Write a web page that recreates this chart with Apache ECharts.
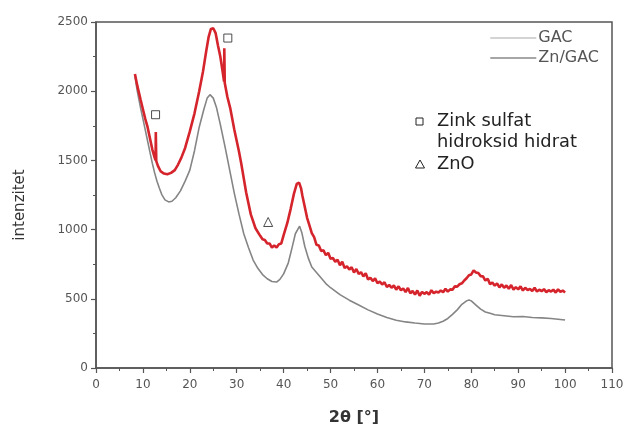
<!DOCTYPE html>
<html><head><meta charset="utf-8">
<script src="https://cdn.jsdelivr.net/npm/echarts@6/dist/echarts.min.js"></script>
<style>html,body{margin:0;padding:0;background:#fff}#c{width:625px;height:427px}</style>
</head><body><div id="c"></div>
<script>
const znGacTheta = [8.3,8.8,9.5,10,10.5,11,11.5,12,12.5,12.7,12.75,12.85,13.2,13.8,14.5,15.2,16,16.8,17.5,18.2,19,20,21,22,22.8,23.5,24,24.5,25,25.5,26,26.5,27,27.3,27.35,27.45,28,28.6,29.5,30.5,31,32,33,34,35,35.5,36,36.5,37,37.5,38,38.5,39,39.5,40,40.8,41.5,42.2,42.8,43.3,43.7,
44,44.5,45,45.5,46,46.5,47,47.5,48,48.5,49,49.5,50,50.5,51,51.5,52,52.5,53,53.5,54,54.5,55,55.5,56,56.5,57,57.5,58,58.5,59,59.5,60,60.5,61,61.5,62,62.5,63,63.5,64,64.5,65,65.5,66,66.5,67,67.5,68,68.5,69,69.5,70,70.5,71,71.5,72,72.5,73,73.5,74,74.5,75,75.5,76,76.5,77,77.5,78,78.5,79,79.5,80,80.5,81,81.5,82,82.5,83,83.5,84,84.5,85,85.5,86,86.5,87,87.5,88,88.5,89,89.5,90,90.5,91,91.5,92,92.5,93,93.5,94,94.5,95,95.5,96,96.5,97,97.5,98,98.5,99,99.5,100];
const znGacIntensity = [2125,2040,1940,1870,1800,1740,1660,1580,1520,1500,1705,1495,1460,1420,1405,1400,1410,1430,1470,1520,1590,1710,1840,2000,2140,2290,2390,2450,2455,2420,2330,2250,2140,2070,2310,2060,1960,1880,1720,1560,1470,1270,1110,1010,955,930,925,900,900,870,885,870,895,900,960,1050,1150,1260,1330,1340,1300,
1245,1165,1085,1030,975,945,890,885,845,850,815,832,790,795,768,782,742,768,722,735,712,728,690,715,680,692,662,685,640,652,628,648,612,625,603,620,585,600,580,596,566,590,562,575,548,578,540,556,530,560,522,550,536,548,530,562,540,552,545,560,548,572,552,568,566,590,588,605,612,632,648,670,676,705,690,686,664,662,632,645,606,618,595,612,583,604,580,596,572,600,566,584,568,590,560,580,562,572,556,580,553,566,555,570,548,562,552,566,545,568,550,560,546,558,550];
const gacTheta = [8.3,8.8,9.5,10,10.5,11,11.5,12,12.5,13,13.5,14,14.7,15.5,16.2,17,18,19,20,21,22,23,23.7,24.3,25,25.7,26.5,27.5,28.5,29.5,30.5,31.5,32.5,33.5,34.5,35.5,36.5,37.5,38.5,39.2,40,41,41.8,42.5,43.4,43.9,44.5,45.3,46,47,48,49,50,52,54,56,58,60,62,64,66,68,70,72,73,74,75,76,77,78,79,79.5,80,81,82,83,84,85,87,89,91,93,95,97,100];
const gacIntensity = [2110,2000,1880,1800,1720,1640,1560,1480,1410,1350,1300,1255,1215,1200,1205,1230,1280,1350,1430,1570,1740,1870,1950,1975,1950,1880,1760,1600,1430,1260,1110,970,870,780,720,675,645,625,621,640,680,760,870,970,1025,975,880,790,730,690,650,610,580,530,490,455,420,390,365,345,333,325,318,318,325,338,358,388,420,460,485,492,485,455,425,405,395,385,378,370,372,365,362,358,347];
const sulfatePeaks = [[12.7,1830],[28.1,2384]];
const znoPeaks = [[36.7,1055]];
const xTicks = {min:0,max:110,interval:10};
const yTicks = {min:0,max:2500,interval:500};

const zip = (a,b)=>a.map((v,i)=>[v,b[i]]);
const chart = echarts.init(document.getElementById('c'));
const axisColor = '#555';
const font = 'DejaVu Sans';
const annFont = '17px "DejaVu Sans"';
chart.setOption({
  animation:false,
  backgroundColor:'#fff',
  grid:{left:96,right:13,top:22,bottom:59,outerBoundsMode:'none',containLabel:false,show:true,borderColor:axisColor,borderWidth:1.5,backgroundColor:'transparent'},
  legend:{
    orient:'vertical',right:21,top:25,itemGap:4,itemWidth:46,itemHeight:2,align:'left',
    textStyle:{color:'#555',fontSize:16,fontFamily:font,padding:[0,0,0,-3]},
    data:[
      {name:'GAC',icon:'rect',itemStyle:{color:'#d4d4d4'}},
      {name:'Zn/GAC',icon:'rect',itemStyle:{color:'#a6a6a6'}}
    ]
  },
  xAxis:{type:'value',min:xTicks.min,max:xTicks.max,interval:xTicks.interval,
    name:'2θ [°]',nameLocation:'middle',nameGap:42,
    nameTextStyle:{fontWeight:'bold',fontSize:16,color:'#333',fontFamily:font},
    axisLine:{show:true,lineStyle:{color:axisColor,width:1.5}},
    axisTick:{show:true,length:5,lineStyle:{color:axisColor,width:1.2}},
    minorTick:{show:true,splitNumber:2,length:3,lineStyle:{color:axisColor}},
    axisLabel:{color:'#555',fontSize:12,margin:11,fontFamily:font},
    splitLine:{show:false}},
  yAxis:{type:'value',min:yTicks.min,max:yTicks.max,interval:yTicks.interval,
    name:'intenzitet',nameLocation:'middle',nameGap:68,
    nameTextStyle:{fontSize:15,color:'#333',fontFamily:font,padding:[0,20,0,0]},
    axisLine:{show:true,lineStyle:{color:axisColor,width:1.5}},
    axisTick:{show:true,length:5,lineStyle:{color:axisColor,width:1.2}},
    minorTick:{show:true,splitNumber:2,length:3,lineStyle:{color:axisColor}},
    axisLabel:{color:'#555',fontSize:12,margin:8,fontFamily:font,formatter:v=>String(v)},
    splitLine:{show:false}},
  series:[
    {name:'GAC',type:'line',data:zip(gacTheta,gacIntensity),showSymbol:false,
      lineStyle:{color:'#858585',width:1.6},itemStyle:{color:'#858585'},z:2},
    {name:'Zn/GAC',type:'line',data:zip(znGacTheta,znGacIntensity),showSymbol:false,
      lineStyle:{color:'#d5242c',width:2.6},itemStyle:{color:'#d5242c'},z:3},
    {name:'sulfat',type:'scatter',data:sulfatePeaks,symbol:'rect',symbolSize:8,
      itemStyle:{color:'#fff',borderColor:'#222',borderWidth:1},z:5},
    {name:'ZnO',type:'scatter',data:znoPeaks,symbol:'triangle',symbolSize:9,
      itemStyle:{color:'#fff',borderColor:'#222',borderWidth:1},z:5}
  ],
  graphic:[
    {type:'rect',shape:{x:416,y:118,width:7,height:7},style:{fill:'#fff',stroke:'#222',lineWidth:1}},
    {type:'text',x:437,y:122,scaleX:1.05,style:{text:'Zink sulfat',fill:'#222',font:annFont,textVerticalAlign:'middle'}},
    {type:'text',x:437,y:143,scaleX:1.05,style:{text:'hidroksid hidrat',fill:'#222',font:annFont,textVerticalAlign:'middle'}},
    {type:'polygon',shape:{points:[[420,160],[424.5,168],[415.5,168]]},style:{fill:'#fff',stroke:'#222',lineWidth:1}},
    {type:'text',x:437,y:165,scaleX:1.05,style:{text:'ZnO',fill:'#222',font:annFont,textVerticalAlign:'middle'}}
  ]
});
</script></body></html>
